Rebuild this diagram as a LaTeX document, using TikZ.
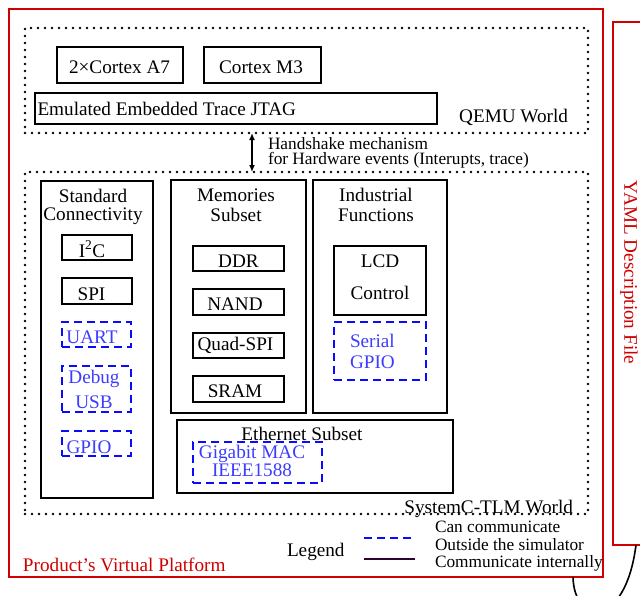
\documentclass[tikz,border=0pt]{standalone}
\usepackage{fontspec}
\setmainfont{Liberation Serif}
\usetikzlibrary{arrows.meta}
\definecolor{vpred}{RGB}{208,0,0}
\definecolor{dblue}{RGB}{10,10,255}
\definecolor{tblue}{RGB}{60,60,255}
\definecolor{legpurple}{RGB}{50,0,45}
\begin{document}
\begin{tikzpicture}[x=1pt,y=-1pt,
  every node/.style={font=\fontsize{19.2}{19}\selectfont, inner sep=0pt, outer sep=0pt},
  box/.style={draw=black, line width=1.8pt},
  dbox/.style={draw=dblue, line width=1.8pt, dash pattern=on 8pt off 5pt},
  world/.style={draw=black, line width=2.8pt, dash pattern=on 0pt off 7pt, line cap=round},
  redbox/.style={draw=vpred, line width=2.4pt},
  small/.style={font=\fontsize{17.3}{15}\selectfont},
  btext/.style={text=tblue},
]
\useasboundingbox (0,0) rectangle (640,595);
\clip (0,0) rectangle (640,595);

% outer frames
\node[redbox, minimum width=594pt, minimum height=568pt] (plat) at (306,293) {};
\node[redbox, minimum width=60pt, minimum height=523pt] (yaml) at (643,283.5) {};
\node[rotate=-90, text=vpred] (yamlt) at (629,272.5) {YAML Description File};
\node[anchor=base west, text=vpred] (platt) at (23,571) {Product’s Virtual Platform};

% QEMU world
\node[world, minimum width=563pt, minimum height=105pt] (qemu) at (306.5,80.5) {};
\node[box, minimum width=126pt, minimum height=36pt] (cpu) at (120,65) {};
\node[anchor=base] (cput) at (119.5,73) {2×Cortex A7};
\node[box, minimum width=117pt, minimum height=36pt] (m3) at (262.5,65) {};
\node[anchor=base] (m3t) at (261,73) {Cortex M3};
\node[box, minimum width=402pt, minimum height=31pt] (jtag) at (236,108.5) {};
\node[anchor=base west] (jtagt) at (37.5,115) {Emulated Embedded Trace JTAG};
\node[anchor=base east] (qemut) at (568,122) {QEMU World};

% SystemC world
\node[world, minimum width=563pt, minimum height=342pt] (sysc) at (306.5,343) {};
\node[anchor=base east] (sysct) at (573,513) {SystemC-TLM World};

% handshake
\coordinate (ax) at (252,0);
\draw[{Latex[length=7pt,width=6pt]}-{Latex[length=7pt,width=6pt]}, line width=1.4pt] (qemu.south -| ax) -- (sysc.north -| ax);
\node[small, align=left, anchor=north west] (hs) at (268,137.5) {Handshake mechanism\\for Hardware events (Interupts, trace)};

% Standard connectivity
\node[box, minimum width=112pt, minimum height=317pt] (std) at (97,339.5) {};
\node[align=center, anchor=north, font=\fontsize{19.2}{18}\selectfont] (stdt) at (93,188.9) {Standard\\Connectivity};
\node[box, minimum width=70pt, minimum height=25pt] (i2c) at (97,247.5) {};
\node[anchor=base] (i2ct) at (92,257) {I\textsuperscript{2}C};
\node[box, minimum width=70pt, minimum height=26pt] (spi) at (97,291) {};
\node[anchor=base] (spit) at (91.5,300) {SPI};
\node[dbox, minimum width=69pt, minimum height=25pt] (uart) at (96.5,334.5) {};
\node[anchor=base, btext] (uartt) at (92,343) {UART};
\node[dbox, minimum width=69pt, minimum height=46pt] (usb) at (96.5,389) {};
\node[anchor=north, align=center, btext, font=\fontsize{19.2}{25}\selectfont] (usbt) at (94,369.9) {Debug\\USB};
\node[dbox, minimum width=69pt, minimum height=25pt] (gpio) at (96.5,443.5) {};
\node[anchor=base, btext] (gpiot) at (89,453) {GPIO};

% Memories
\node[box, minimum width=135pt, minimum height=233pt] (mem) at (238.5,296.5) {};
\node[align=center, anchor=north, font=\fontsize{19.2}{20}\selectfont] (memt) at (236,189) {Memories\\Subset};
\node[box, minimum width=91pt, minimum height=25pt] (ddr) at (238.5,258.5) {};
\node[anchor=base] (ddrt) at (238.5,267) {DDR};
\node[box, minimum width=91pt, minimum height=26pt] (nand) at (238.5,302) {};
\node[anchor=base] (nandt) at (235,310) {NAND};
\node[box, minimum width=91pt, minimum height=25pt] (qspi) at (238.5,345.5) {};
\node[anchor=base] (qspit) at (235.5,350) {Quad-SPI};
\node[box, minimum width=91pt, minimum height=26pt] (sram) at (238.5,389) {};
\node[anchor=base] (sramt) at (235,397) {SRAM};

% Industrial
\node[box, minimum width=134pt, minimum height=233pt] (ind) at (380,296.5) {};
\node[align=center, anchor=north, font=\fontsize{19.2}{20}\selectfont] (indt) at (376,188) {Industrial\\Functions};
\node[box, minimum width=92pt, minimum height=69pt] (lcd) at (380,280.5) {};
\node[align=center, anchor=north, font=\fontsize{19.2}{32}\selectfont] (lcdt) at (380,254.3) {LCD\\Control};
\node[dbox, minimum width=92pt, minimum height=58pt] (sgpio) at (380,351) {};
\node[align=left, anchor=north west, btext, font=\fontsize{19.2}{21}\selectfont] (sgpiot) at (350,334) {Serial\\GPIO};

% Ethernet
\node[box, minimum width=276pt, minimum height=73pt] (eth) at (315,456.5) {};
\node[anchor=base] (etht) at (302,440) {Ethernet Subset};
\node[dbox, minimum width=129pt, minimum height=41pt] (gmac) at (257.5,462.5) {};
\node[align=center, anchor=north, btext, font=\fontsize{19.2}{14}\selectfont] (gmact) at (252,444.9) {Gigabit MAC\\IEEE1588};

% Legend
\node[anchor=base west] (leg) at (287,556) {Legend};
\coordinate (l1a) at (364,538); \coordinate (l1b) at (415,538);
\coordinate (l2a) at (364,559); \coordinate (l2b) at (415,559);
\draw[draw=dblue, line width=2pt, dash pattern=on 8pt off 5pt] (l1a) -- (l1b);
\draw[draw=legpurple, line width=2pt] (l2a) -- (l2b);
\node[small, anchor=base west] (lg1) at (435,532) {Can communicate};
\node[small, anchor=base west] (lg2) at (435,550) {Outside the simulator};
\node[small, anchor=base west] (lg3) at (435,567) {Communicate internally};

% link curve
\coordinate (cx1) at (573,0);
\coordinate (cx2) at (636,0);
\draw[line width=1.6pt] (plat.south -| cx1) .. controls (574,625) and (625,630) .. (yaml.south -| cx2);
\end{tikzpicture}
\end{document}
